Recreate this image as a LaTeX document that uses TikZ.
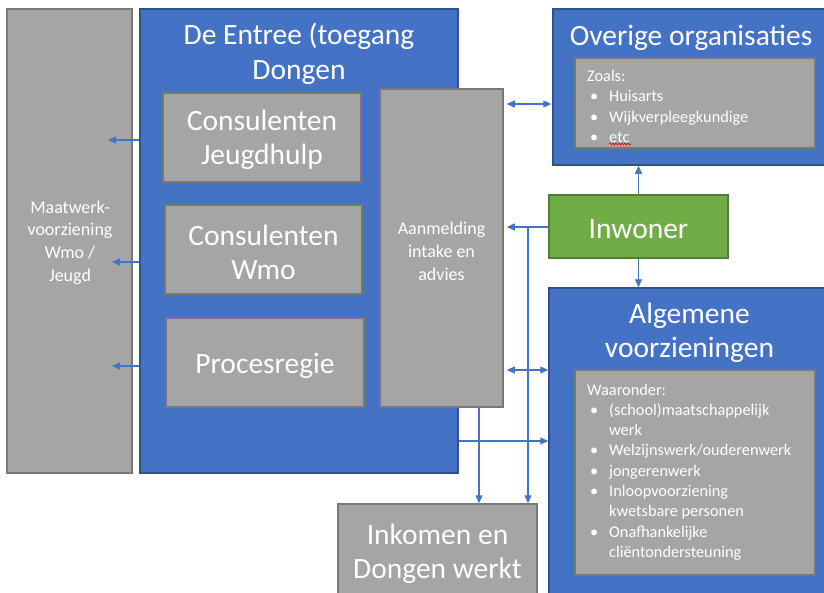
\documentclass[tikz,border=0pt]{standalone}
\usepackage{fontspec}
\setmainfont{Carlito}
\usetikzlibrary{arrows.meta,decorations.pathmorphing}
\definecolor{bfill}{HTML}{4472C4}
\definecolor{bdraw}{HTML}{2F528F}
\definecolor{gfill}{HTML}{A5A5A5}
\definecolor{gdraw}{HTML}{787878}
\definecolor{grfill}{HTML}{70AD47}
\definecolor{grdraw}{HTML}{507E32}
\definecolor{arrcol}{HTML}{4472C4}
\begin{document}
\begin{tikzpicture}[x=1pt,y=-1pt,
 bluebox/.style={draw=bdraw,fill=bfill,line width=1.5pt,inner sep=0pt,rectangle},
 graybox/.style={draw=gdraw,fill=gfill,line width=1.5pt,inner sep=0pt,rectangle},
 greenbox/.style={draw=grdraw,fill=grfill,line width=1.5pt,inner sep=0pt,rectangle},
 bigtxt/.style={text=white,font=\fontsize{29.5}{34.5}\selectfont,align=center,inner sep=0pt},
 midtxt/.style={text=white,font=\fontsize{18}{22.7}\selectfont,align=center,inner sep=0pt},
 listtxt/.style={text=white,font=\fontsize{16.3}{20.3}\selectfont,align=left,inner sep=0pt},
 tip/.tip={Triangle[length=8pt,width=7pt]},
 arr/.style={draw=arrcol,line width=1.1pt,-tip},
 darr/.style={draw=arrcol,line width=1.1pt,tip-tip}]
\useasboundingbox (0,0) rectangle (824,592);
\fill[white] (0,0) rectangle (824,592);
\clip (0,0) rectangle (824,592);

% left column
\node[graybox,minimum width=125pt,minimum height=464pt] (maat) at (69.5,241) {};
\node[midtxt] (maatt) at (70,242.5) {Maatwerk-\\voorziening\\Wmo /\\Jeugd};

% De Entree
\node[bluebox,minimum width=318pt,minimum height=464pt] (entree) at (299,241) {};
\node[bigtxt] (entreet) at (299,54) {De Entree (toegang\\Dongen};
\node[graybox,minimum width=198pt,minimum height=89pt] (cj) at (262,137.5) {};
\node[bigtxt] (cjt) at (262,140) {Consulenten\\Jeugdhulp};
\node[graybox,minimum width=197pt,minimum height=89pt] (cw) at (263.5,249.5) {};
\node[bigtxt] (cwt) at (263.5,252.5) {Consulenten\\Wmo};
\node[graybox,minimum width=198pt,minimum height=89pt] (pr) at (265,362.5) {};
\node[bigtxt] (prt) at (265,365.5) {Procesregie};
\node[graybox,minimum width=123pt,minimum height=318pt] (aanm) at (441.5,248) {};
\node[midtxt] (aanmt) at (441.5,251.5) {Aanmelding\\intake en\\advies};

% Overige organisaties
\node[bluebox,minimum width=277pt,minimum height=156pt] (ov) at (691.5,87) {};
\node[bigtxt] (ovt) at (691,38) {Overige organisaties};
\node[graybox,minimum width=240pt,minimum height=90pt] (ovin) at (695,103) {};
\node[listtxt,anchor=north west] (ovlist) at (587,70) {Zoals:\\
\hspace*{3pt}\makebox[19pt][l]{•}Huisarts\\
\hspace*{3pt}\makebox[19pt][l]{•}Wijkverpleegkundige\\
\hspace*{3pt}\makebox[19pt][l]{•}etc};
\draw[red!85!black,line width=0.6pt,decorate,decoration={snake,amplitude=0.9pt,segment length=3pt}] (609,144) -- (631,144);

% Inwoner
\node[greenbox,minimum width=179pt,minimum height=63pt] (inw) at (638.5,226.5) {};
\node[bigtxt] (inwt) at (638.5,229) {Inwoner};

% Algemene voorzieningen
\node[bluebox,minimum width=281pt,minimum height=322pt] (alg) at (689.5,449) {};
\node[bigtxt] (algt) at (689.5,333) {Algemene\\voorzieningen};
\node[graybox,minimum width=240pt,minimum height=205pt] (algin) at (695,472.5) {};
\node[listtxt,anchor=north west] (alglist) at (587,383.5) {Waaronder:\\
\hspace*{3pt}\makebox[19pt][l]{•}(school)maatschappelijk\\
\hspace*{22pt}werk\\
\hspace*{3pt}\makebox[19pt][l]{•}Welzijnswerk/ouderenwerk\\
\hspace*{3pt}\makebox[19pt][l]{•}jongerenwerk\\
\hspace*{3pt}\makebox[19pt][l]{•}Inloopvoorziening\\
\hspace*{22pt}kwetsbare personen\\
\hspace*{3pt}\makebox[19pt][l]{•}Onafhankelijke\\
\hspace*{22pt}cliëntondersteuning};

% Inkomen
\node[graybox,minimum width=199pt,minimum height=106pt] (ink) at (437.5,557) {};
\node[bigtxt] (inkt) at (437.5,554) {Inkomen en\\Dongen werkt};

% connectors
\coordinate (j1) at (528,227);
\coordinate (j2) at (479,0);
\draw[darr] ([xshift=3pt]aanm.east |- 0,104) -- ([xshift=-1pt]ov.west |- 0,104);
\draw[arr] (inw.west |- j1) -- ([xshift=3pt]aanm.east |- j1);
\draw[arr] (j1) -- (j1 |- ink.north);
\draw[arr] (j2 |- aanm.south) -- (j2 |- ink.north);
\draw[darr] ([xshift=3pt]aanm.east |- 0,370) -- (alg.west |- 0,370);
\draw[arr] (entree.east |- 0,441) -- (alg.west |- 0,441);
\draw[arr] (inw.north) -- (inw.north |- ov.south);
\draw[arr] (inw.south) -- (inw.south |- alg.north);
\draw[arr] (entree.west |- 0,140) -- (108,140);
\draw[arr] (entree.west |- 0,262) -- (112,262);
\draw[arr] (entree.west |- 0,366) -- (112,366);
\end{tikzpicture}
\end{document}
